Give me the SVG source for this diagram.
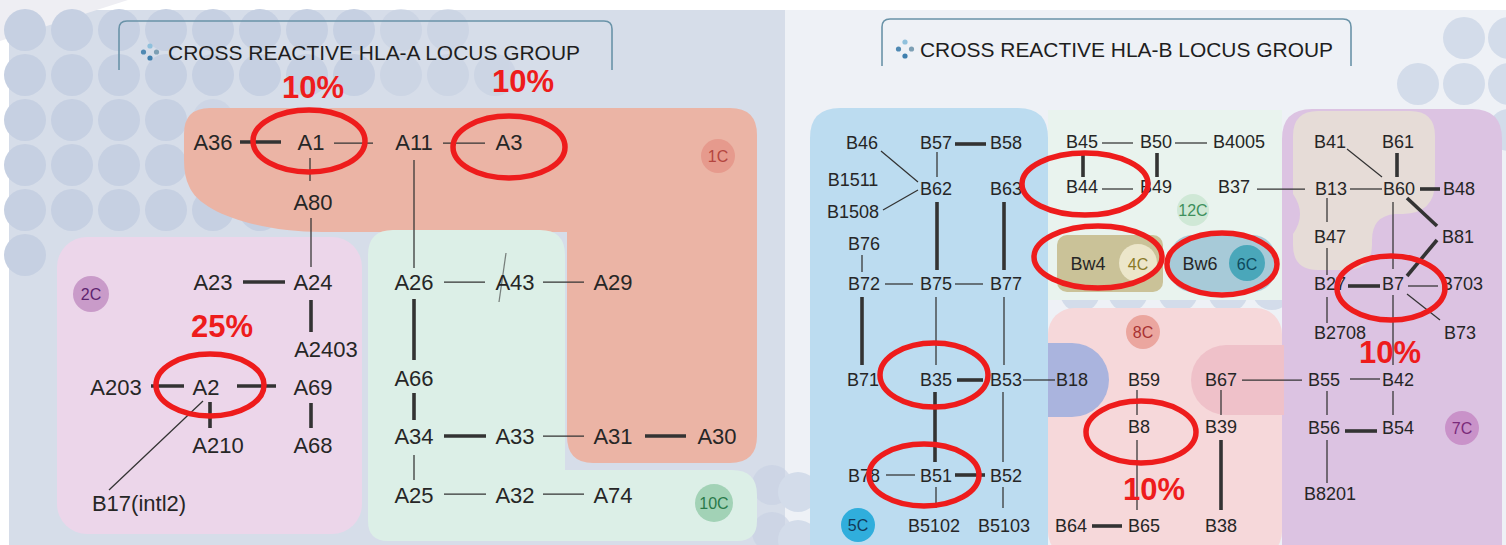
<svg xmlns="http://www.w3.org/2000/svg" width="1506" height="545" viewBox="0 0 1506 545">
  <defs>
    <style>
      .n { font-family: "Liberation Sans", Arial, sans-serif; fill: #262626; text-anchor: middle; }
      .a { font-size: 22px; }
      .b { font-size: 18px; }
      .title { font-family: "Liberation Sans", Arial, sans-serif; font-size: 21px; fill: #1e1e1e; }
      .tbox { fill: none; stroke: #6a93a8; stroke-width: 1.6; }
      .thin { stroke: #333; stroke-width: 1.25; fill: none; }
      .thick { stroke: #333; stroke-width: 3.6; fill: none; }
      .ring { fill: none; stroke: #ee1c1c; stroke-width: 5.5; }
      .pct { font-family: "Liberation Sans", Arial, sans-serif; font-weight: bold; font-size: 31px; fill: #ee1c1c; text-anchor: middle; }
      .cl { font-family: "Liberation Sans", Arial, sans-serif; font-size: 16px; text-anchor: middle; }
      .dotL { fill: #c6d0e2; }
      .dotR { fill: #d3dcea; }
    </style>
  </defs>

  <!-- page -->
  <rect x="0" y="0" width="1506" height="545" fill="#ffffff"/>
  <rect x="9" y="10" width="776" height="535" fill="#d6dde9"/>
  <rect x="785" y="10" width="721" height="535" fill="#eef1f6"/>
  <polygon points="0,0 128,0 0,41" fill="#eeeef3"/>

  <!-- background dot pattern -->
  <g id="dots-left">
    <g class="dotL">
      <circle cx="25" cy="30" r="21"/><circle cx="72" cy="30" r="21"/><circle cx="119" cy="30" r="21"/><circle cx="166" cy="30" r="21"/><circle cx="213" cy="30" r="21"/><circle cx="260" cy="30" r="21"/><circle cx="307" cy="30" r="21"/><circle cx="354" cy="30" r="21"/>
      <circle cx="25" cy="75" r="21"/><circle cx="72" cy="75" r="21"/><circle cx="119" cy="75" r="21"/><circle cx="166" cy="75" r="21"/><circle cx="213" cy="75" r="21"/><circle cx="260" cy="75" r="21"/><circle cx="307" cy="75" r="21"/><circle cx="354" cy="75" r="21"/>
      <circle cx="25" cy="120" r="21"/><circle cx="72" cy="120" r="21"/><circle cx="119" cy="120" r="21"/><circle cx="166" cy="120" r="21"/>
      <circle cx="25" cy="165" r="21"/><circle cx="72" cy="165" r="21"/><circle cx="119" cy="165" r="21"/><circle cx="166" cy="165" r="21"/><circle cx="213" cy="165" r="21"/>
      <circle cx="25" cy="210" r="21"/><circle cx="72" cy="210" r="21"/><circle cx="119" cy="210" r="21"/><circle cx="166" cy="210" r="21"/><circle cx="213" cy="210" r="21"/><circle cx="260" cy="210" r="21"/>
      <circle cx="25" cy="255" r="21"/>
    </g>
    <g class="dotL" opacity="0.6">
      <circle cx="401" cy="30" r="21"/><circle cx="448" cy="30" r="21"/><circle cx="401" cy="75" r="21"/><circle cx="448" cy="75" r="21"/><circle cx="495" cy="75" r="21"/>
      <circle cx="213" cy="120" r="21"/><circle cx="307" cy="210" r="21"/><circle cx="354" cy="210" r="21"/>
      <circle cx="772" cy="485" r="20"/><circle cx="772" cy="532" r="20"/>
    </g>
  </g>
  <g id="dots-right" class="dotR">
    <circle cx="1418" cy="84" r="21"/><circle cx="1464" cy="84" r="21"/><circle cx="1509" cy="84" r="21"/>
    <circle cx="1464" cy="38" r="21"/><circle cx="1509" cy="38" r="21"/><circle cx="1509" cy="130" r="21"/>
    <circle cx="798" cy="492" r="20"/><circle cx="798" cy="540" r="20"/>
    <circle cx="1080" cy="292" r="20"/><circle cx="1128" cy="292" r="20"/><circle cx="1178" cy="292" r="20"/><circle cx="1228" cy="292" r="20"/><circle cx="1272" cy="290" r="20"/>
  </g>

  <!-- HLA-A cross reactive group regions -->
  <g id="region-1C">
    <path d="M210,108 H730 Q757,108 757,135 V436 Q757,463 730,463 H593 Q567,463 567,436 V232 H322 C262,232 200,214 189,186 Q184,176 184,160 V134 Q184,108 210,108 Z" fill="#ebb4a5"/>
  </g>
  <g id="region-10C">
    <path d="M393,230 H540 Q565,230 565,255 V470 H732 Q757,470 757,495 V521 Q757,541 737,541 H388 Q368,541 368,521 V255 Q368,230 393,230 Z" fill="#dcefe7"/>
  </g>
  <g id="region-2C">
    <rect x="57" y="237" width="305" height="297" rx="30" fill="#ecd6ea"/>
  </g>

  <!-- HLA-B cross reactive group regions -->
  <g id="region-5C">
    <path d="M840,108 H1018 Q1048,108 1048,138 V545 H810 V138 Q810,108 840,108 Z" fill="#bcdcf0"/>
  </g>
  <g id="region-12C">
    <path d="M1048,110 H1282 V300 H1048 Z" fill="#e9f3ee"/>
  </g>
  <g id="region-7C">
    <path d="M1312,109 H1472 Q1502,109 1502,139 V545 H1282 V139 Q1282,109 1312,109 Z" fill="#dcc3e2"/>
    <path d="M1318,111 H1410 Q1435,111 1435,136 V182 Q1435,213 1403,214 H1395 Q1372,216 1372,240 V245 Q1372,270 1345,270 H1318 Q1293,270 1293,245 V234 Q1307,214 1293,194 V136 Q1293,111 1318,111 Z" fill="#e6dcd7"/>
  </g>
  <g id="region-8C">
    <rect x="1048" y="308" width="234" height="250" rx="26" fill="#f6d8da"/>
    <path d="M1048,343 H1072 A37,37 0 0 1 1072,417 H1048 Z" fill="#aab4de"/>
    <path d="M1284,345 H1226 A35,35 0 0 0 1226,415 H1284 Z" fill="#efc1c9"/>
  </g>
  <g id="region-4C">
    <rect x="1057" y="235" width="106" height="57" rx="10" fill="#cac298"/>
  </g>
  <g id="region-6C">
    <rect x="1170" y="235" width="105" height="57" rx="22" fill="#a7cad8"/>
  </g>

  <!-- panel headings -->
  <g id="heading-a">
    <path class="tbox" d="M119,70 V29 Q119,21 127,21 H604 Q612,21 612,29 V70"/>
    <circle cx="150" cy="46" r="2.6" fill="#8fc0dc"/>
    <circle cx="143.5" cy="52" r="2.6" fill="#4f89b3"/>
    <circle cx="156.5" cy="52" r="2.6" fill="#7d9fb4"/>
    <circle cx="150" cy="58" r="2.6" fill="#3f7fae"/>
    <text class="title" x="168" y="60" textLength="412" lengthAdjust="spacingAndGlyphs">CROSS REACTIVE HLA-A LOCUS GROUP</text>
  </g>
  <g id="heading-b">
    <path class="tbox" d="M882,66 V27 Q882,19 890,19 H1343 Q1351,19 1351,27 V66"/>
    <circle cx="905" cy="42" r="2.6" fill="#8fc0dc"/>
    <circle cx="898.5" cy="49" r="2.6" fill="#4f89b3"/>
    <circle cx="911.5" cy="49" r="2.6" fill="#7d9fb4"/>
    <circle cx="905" cy="56" r="2.6" fill="#3f7fae"/>
    <text class="title" x="920" y="57" textLength="413" lengthAdjust="spacingAndGlyphs">CROSS REACTIVE HLA-B LOCUS GROUP</text>
  </g>

  <!-- connectors -->
  <g id="connectors">
    <!-- HLA-A -->
    <line class="thick" x1="240" y1="142" x2="281" y2="142"/>
    <line class="thin" x1="334" y1="143" x2="373" y2="143"/>
    <line class="thin" x1="443" y1="143" x2="485" y2="143"/>
    <line class="thin" x1="310" y1="158" x2="310" y2="181"/>
    <line class="thin" x1="311" y1="218" x2="311" y2="267"/>
    <line class="thin" x1="414" y1="160" x2="414" y2="268"/>
    <line class="thick" x1="243" y1="282" x2="285" y2="282"/>
    <line class="thick" x1="311" y1="300" x2="311" y2="332"/>
    <line class="thick" x1="151" y1="386" x2="184" y2="386"/>
    <line class="thick" x1="237" y1="386" x2="276" y2="386"/>
    <line class="thick" x1="210" y1="402" x2="210" y2="428"/>
    <line class="thick" x1="311" y1="403" x2="311" y2="428"/>
    <line class="thin" x1="203" y1="401" x2="109" y2="490"/>
    <line class="thin" x1="444" y1="282" x2="485" y2="282"/>
    <line class="thin" x1="543" y1="282" x2="584" y2="282"/>
    <line class="thin" x1="506" y1="253" x2="499" y2="302" opacity="0.6"/>
    <line class="thick" x1="414" y1="299" x2="414" y2="360"/>
    <line class="thick" x1="414" y1="393" x2="414" y2="420"/>
    <line class="thick" x1="444" y1="436" x2="486" y2="436"/>
    <line class="thin" x1="543" y1="436" x2="584" y2="436"/>
    <line class="thick" x1="645" y1="436" x2="686" y2="436"/>
    <line class="thin" x1="414" y1="455" x2="414" y2="480"/>
    <line class="thin" x1="444" y1="494" x2="486" y2="494"/>
    <line class="thin" x1="543" y1="494" x2="584" y2="494"/>
    <!-- HLA-B -->
    <line class="thick" x1="955" y1="144" x2="986" y2="144"/>
    <line class="thin" x1="881" y1="151" x2="918" y2="182"/>
    <line class="thin" x1="883" y1="210" x2="918" y2="190"/>
    <line class="thin" x1="937" y1="152" x2="937" y2="177"/>
    <line class="thick" x1="937" y1="202" x2="937" y2="270"/>
    <line class="thick" x1="1004" y1="202" x2="1004" y2="270"/>
    <line class="thin" x1="862" y1="255" x2="862" y2="272"/>
    <line class="thin" x1="885" y1="284" x2="913" y2="284"/>
    <line class="thin" x1="955" y1="284" x2="983" y2="284"/>
    <line class="thick" x1="862" y1="297" x2="862" y2="365"/>
    <line class="thin" x1="936" y1="297" x2="936" y2="365"/>
    <line class="thin" x1="1004" y1="297" x2="1004" y2="365"/>
    <line class="thick" x1="957" y1="380" x2="983" y2="380"/>
    <line class="thin" x1="1023" y1="380" x2="1055" y2="380"/>
    <line class="thick" x1="935" y1="392" x2="935" y2="462"/>
    <line class="thin" x1="1003" y1="392" x2="1003" y2="462"/>
    <line class="thin" x1="886" y1="475" x2="915" y2="475"/>
    <line class="thick" x1="955" y1="475" x2="985" y2="475"/>
    <line class="thin" x1="936" y1="487" x2="936" y2="508"/>
    <line class="thin" x1="1003" y1="487" x2="1003" y2="508"/>
    <line class="thin" x1="1137" y1="390" x2="1137" y2="415"/>
    <line class="thin" x1="1137" y1="440" x2="1137" y2="510"/>
    <line class="thick" x1="1092" y1="526" x2="1122" y2="526"/>
    <line class="thin" x1="1221" y1="390" x2="1221" y2="415"/>
    <line class="thick" x1="1221" y1="440" x2="1221" y2="510"/>
    <line class="thin" x1="1242" y1="380" x2="1302" y2="380"/>
    <line class="thin" x1="1102" y1="143" x2="1133" y2="143"/>
    <line class="thin" x1="1175" y1="143" x2="1207" y2="143"/>
    <line class="thick" x1="1083" y1="153" x2="1083" y2="177"/>
    <line class="thick" x1="1157" y1="153" x2="1157" y2="177"/>
    <line class="thin" x1="1102" y1="189" x2="1133" y2="189"/>
    <line class="thin" x1="1257" y1="189" x2="1305" y2="189"/>
    <line class="thin" x1="1347" y1="149" x2="1382" y2="177"/>
    <line class="thick" x1="1397" y1="153" x2="1397" y2="177"/>
    <line class="thin" x1="1350" y1="189" x2="1382" y2="189"/>
    <line class="thick" x1="1420" y1="189" x2="1440" y2="189"/>
    <line class="thin" x1="1327" y1="198" x2="1327" y2="222"/>
    <line class="thin" x1="1393" y1="202" x2="1393" y2="269"/>
    <line class="thick" x1="1407" y1="198" x2="1437" y2="226"/>
    <line class="thick" x1="1437" y1="240" x2="1407" y2="276"/>
    <line class="thin" x1="1327" y1="248" x2="1327" y2="275"/>
    <line class="thick" x1="1348" y1="286" x2="1380" y2="286"/>
    <line class="thin" x1="1408" y1="286" x2="1438" y2="286"/>
    <line class="thin" x1="1407" y1="294" x2="1440" y2="320"/>
    <line class="thin" x1="1327" y1="297" x2="1327" y2="323"/>
    <line class="thin" x1="1393" y1="295" x2="1393" y2="365"/>
    <line class="thin" x1="1350" y1="379" x2="1380" y2="379"/>
    <line class="thin" x1="1327" y1="391" x2="1327" y2="415"/>
    <line class="thin" x1="1393" y1="391" x2="1393" y2="415"/>
    <line class="thick" x1="1345" y1="431" x2="1377" y2="431"/>
    <line class="thin" x1="1327" y1="440" x2="1327" y2="483"/>
  </g>

  <!-- group badges -->
  <g id="badge-1C"><circle cx="718" cy="156" r="17" fill="#e69a8d"/><text class="cl" x="718" y="162" fill="#b44640">1C</text></g>
  <g id="badge-2C"><circle cx="91" cy="294" r="18" fill="#c99bc9"/><text class="cl" x="91" y="300" fill="#5e2470">2C</text></g>
  <g id="badge-10C"><circle cx="714" cy="503" r="19" fill="#a2d2b6"/><text class="cl" x="714" y="509" fill="#2a7a4a">10C</text></g>
  <g id="badge-12C"><circle cx="1193" cy="210" r="16" fill="#cfe8d6"/><text class="cl" x="1193" y="216" fill="#3d8f5c">12C</text></g>
  <g id="badge-4C"><circle cx="1138" cy="263" r="19" fill="#ece6ca"/><text class="cl" x="1138" y="270" fill="#8a7a28" font-size="18">4C</text></g>
  <g id="badge-6C"><circle cx="1247" cy="263" r="18" fill="#4aa7ba"/><text class="cl" x="1247" y="270" fill="#0e4a5e" font-size="18">6C</text></g>
  <g id="badge-8C"><circle cx="1143" cy="332" r="17" fill="#eba69f"/><text class="cl" x="1143" y="338" fill="#a83232">8C</text></g>
  <g id="badge-7C"><circle cx="1462" cy="428" r="17" fill="#c992c9"/><text class="cl" x="1462" y="434" fill="#7a2a7a">7C</text></g>
  <g id="badge-5C"><circle cx="858" cy="525" r="17" fill="#30aedc"/><text class="cl" x="858" y="531" fill="#123a5a">5C</text></g>

  <!-- HLA-A antigens -->
  <g id="A36"><text class="n a" x="213" y="150">A36</text></g>
  <g id="A1"><text class="n a" x="311" y="150">A1</text></g>
  <g id="A11"><text class="n a" x="414" y="150">A11</text></g>
  <g id="A3"><text class="n a" x="509" y="150">A3</text></g>
  <g id="A80"><text class="n a" x="313" y="210">A80</text></g>
  <g id="A23"><text class="n a" x="213" y="290">A23</text></g>
  <g id="A24"><text class="n a" x="313" y="290">A24</text></g>
  <g id="A2403"><text class="n a" x="326" y="357">A2403</text></g>
  <g id="A203"><text class="n a" x="116" y="395">A203</text></g>
  <g id="A2"><text class="n a" x="206" y="395">A2</text></g>
  <g id="A69"><text class="n a" x="313" y="395">A69</text></g>
  <g id="A210"><text class="n a" x="218" y="453">A210</text></g>
  <g id="A68"><text class="n a" x="313" y="453">A68</text></g>
  <g id="B17intl2"><text class="n a" x="139" y="511">B17(intl2)</text></g>
  <g id="A26"><text class="n a" x="414" y="290">A26</text></g>
  <g id="A43"><text class="n a" x="515" y="290">A43</text></g>
  <g id="A29"><text class="n a" x="613" y="290">A29</text></g>
  <g id="A66"><text class="n a" x="414" y="386">A66</text></g>
  <g id="A34"><text class="n a" x="414" y="444">A34</text></g>
  <g id="A33"><text class="n a" x="515" y="444">A33</text></g>
  <g id="A31"><text class="n a" x="613" y="444">A31</text></g>
  <g id="A30"><text class="n a" x="717" y="444">A30</text></g>
  <g id="A25"><text class="n a" x="414" y="503">A25</text></g>
  <g id="A32"><text class="n a" x="515" y="503">A32</text></g>
  <g id="A74"><text class="n a" x="613" y="503">A74</text></g>

  <!-- HLA-B antigens -->
  <g id="B46"><text class="n b" x="862" y="149">B46</text></g>
  <g id="B57"><text class="n b" x="936" y="149">B57</text></g>
  <g id="B58"><text class="n b" x="1006" y="149">B58</text></g>
  <g id="B45"><text class="n b" x="1082" y="148">B45</text></g>
  <g id="B50"><text class="n b" x="1156" y="148">B50</text></g>
  <g id="B4005"><text class="n b" x="1239" y="148">B4005</text></g>
  <g id="B41"><text class="n b" x="1330" y="148">B41</text></g>
  <g id="B61"><text class="n b" x="1398" y="148">B61</text></g>
  <g id="B1511"><text class="n b" x="853" y="186">B1511</text></g>
  <g id="B62"><text class="n b" x="936" y="195">B62</text></g>
  <g id="B63"><text class="n b" x="1006" y="195">B63</text></g>
  <g id="B44"><text class="n b" x="1082" y="193">B44</text></g>
  <g id="B49"><text class="n b" x="1156" y="193">B49</text></g>
  <g id="B37"><text class="n b" x="1234" y="193">B37</text></g>
  <g id="B13"><text class="n b" x="1331" y="195">B13</text></g>
  <g id="B60"><text class="n b" x="1399" y="195">B60</text></g>
  <g id="B48"><text class="n b" x="1459" y="195">B48</text></g>
  <g id="B1508"><text class="n b" x="853" y="218">B1508</text></g>
  <g id="B76"><text class="n b" x="864" y="250">B76</text></g>
  <g id="B47"><text class="n b" x="1330" y="243">B47</text></g>
  <g id="B81"><text class="n b" x="1458" y="243">B81</text></g>
  <g id="Bw4"><text class="n b" x="1088" y="270">Bw4</text></g>
  <g id="Bw6"><text class="n b" x="1200" y="270">Bw6</text></g>
  <g id="B72"><text class="n b" x="864" y="290">B72</text></g>
  <g id="B75"><text class="n b" x="936" y="290">B75</text></g>
  <g id="B77"><text class="n b" x="1006" y="290">B77</text></g>
  <g id="B27"><text class="n b" x="1330" y="290">B27</text></g>
  <g id="B7"><text class="n b" x="1393" y="290">B7</text></g>
  <g id="B703"><text class="n b" x="1462" y="290">B703</text></g>
  <g id="B2708"><text class="n b" x="1340" y="339">B2708</text></g>
  <g id="B73"><text class="n b" x="1460" y="339">B73</text></g>
  <g id="B71"><text class="n b" x="863" y="386">B71</text></g>
  <g id="B35"><text class="n b" x="936" y="386">B35</text></g>
  <g id="B53"><text class="n b" x="1006" y="386">B53</text></g>
  <g id="B18"><text class="n b" x="1072" y="386">B18</text></g>
  <g id="B59"><text class="n b" x="1144" y="386">B59</text></g>
  <g id="B67"><text class="n b" x="1221" y="386">B67</text></g>
  <g id="B55"><text class="n b" x="1324" y="386">B55</text></g>
  <g id="B42"><text class="n b" x="1398" y="386">B42</text></g>
  <g id="B8"><text class="n b" x="1139" y="433">B8</text></g>
  <g id="B39"><text class="n b" x="1221" y="433">B39</text></g>
  <g id="B56"><text class="n b" x="1324" y="434">B56</text></g>
  <g id="B54"><text class="n b" x="1398" y="434">B54</text></g>
  <g id="B78"><text class="n b" x="864" y="482">B78</text></g>
  <g id="B51"><text class="n b" x="936" y="482">B51</text></g>
  <g id="B52"><text class="n b" x="1006" y="482">B52</text></g>
  <g id="B8201"><text class="n b" x="1330" y="500">B8201</text></g>
  <g id="B5102"><text class="n b" x="934" y="532">B5102</text></g>
  <g id="B5103"><text class="n b" x="1004" y="532">B5103</text></g>
  <g id="B64"><text class="n b" x="1071" y="532">B64</text></g>
  <g id="B65"><text class="n b" x="1144" y="532">B65</text></g>
  <g id="B38"><text class="n b" x="1221" y="532">B38</text></g>

  <!-- highlight rings and frequencies -->
  <g id="highlights">
    <ellipse class="ring" cx="309" cy="141" rx="56" ry="31"/>
    <ellipse class="ring" cx="509" cy="147" rx="56" ry="31"/>
    <ellipse class="ring" cx="210" cy="385" rx="54" ry="31"/>
    <ellipse class="ring" cx="1085" cy="184" rx="63" ry="31"/>
    <ellipse class="ring" cx="1098" cy="257" rx="64" ry="31"/>
    <ellipse class="ring" cx="1222" cy="264" rx="55" ry="31"/>
    <ellipse class="ring" cx="1391" cy="288" rx="54" ry="32"/>
    <ellipse class="ring" cx="934" cy="375" rx="54" ry="32"/>
    <ellipse class="ring" cx="924" cy="475" rx="55" ry="31"/>
    <ellipse class="ring" cx="1141" cy="432" rx="55" ry="31"/>
    <text class="pct" x="313" y="98">10%</text>
    <text class="pct" x="523" y="92">10%</text>
    <text class="pct" x="222" y="337">25%</text>
    <text class="pct" x="1390" y="363">10%</text>
    <text class="pct" x="1154" y="500">10%</text>
  </g>
</svg>
